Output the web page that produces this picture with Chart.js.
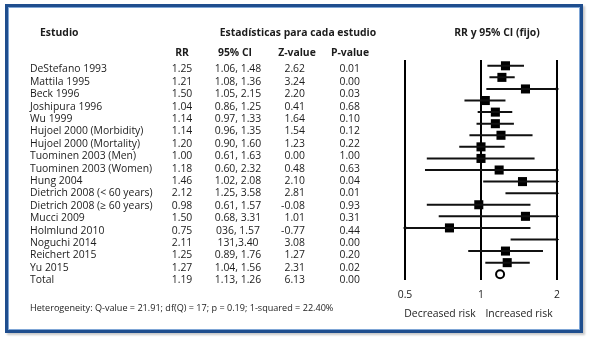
<!DOCTYPE html>
<html>
<head>
<meta charset="utf-8">
<script src="https://cdn.jsdelivr.net/npm/chart.js@4.4.1/dist/chart.umd.min.js"></script>
<style>
  html, body { margin: 0; padding: 0; background: #fff; }
  #wrap { position: relative; width: 589px; height: 338px; overflow: hidden; font-family: "Open Sans", sans-serif; color: #1c1c1c; }
  #frame { position: absolute; left: 5px; top: 4px; width: 572px; height: 323px; border: 3px solid #1f4e8e; box-shadow: inset 0 0 0 1px #7fa6d6, 2px 2px 2px #c8c8c8; }
  #chartBox { position: absolute; left: 0; top: 0; width: 589px; height: 338px; }
  .t { position: absolute; white-space: nowrap; line-height: 1; font-size: 10.4px; }
  .b { font-weight: bold; }
</style>
</head>
<body>
<div id="wrap">
  <div id="frame"></div>
  <div id="chartBox"><canvas id="forest"></canvas></div>
</div>
<script>
// tabla
const estudios = ["DeStefano 1993", "Mattila 1995", "Beck 1996", "Joshipura 1996", "Wu 1999",
  "Hujoel 2000 (Morbidity)", "Hujoel 2000 (Mortality)", "Tuominen 2003 (Men)", "Tuominen 2003 (Women)",
  "Hung 2004", "Dietrich 2008 (< 60 years)", "Dietrich 2008 (\u2265 60 years)", "Mucci 2009",
  "Holmlund 2010", "Noguchi 2014", "Reichert 2015", "Yu 2015", "Total"]
const rrTexto = ["1.25", "1.21", "1.50", "1.04", "1.14", "1.14", "1.20", "1.00", "1.18", "1.46",
  "2.12", "0.98", "1.50", "0.75", "2.11", "1.25", "1.27", "1.19"]
const ciTexto = ["1.06, 1.48", "1.08, 1.36", "1.05, 2.15", "0.86, 1.25", "0.97, 1.33", "0.96, 1.35",
  "0.90, 1.60", "0.61, 1.63", "0.60, 2.32", "1.02, 2.08", "1.25, 3.58", "0.61, 1.57", "0.68, 3.31",
  "036, 1.57", "131,3.40", "0.89, 1.76", "1.04, 1.56", "1.13, 1.26"]
const zTexto = ["2.62", "3.24", "2.20", "0.41", "1.64", "1.54", "1.23", "0.00", "0.48", "2.10",
  "2.81", "-0.08", "1.01", "-0.77", "3.08", "1.27", "2.31", "6.13"]
const pTexto = ["0.01", "0.00", "0.03", "0.68", "0.10", "0.12", "0.22", "1.00", "0.63", "0.04",
  "0.01", "0.93", "0.31", "0.44", "0.00", "0.20", "0.02", "0.00"]

// gráfico (la figura original dibuja una fila extra en la posición 8)
const plotRR = [1.25, 1.21, 1.50, 1.04, 1.14, 1.14, 1.20, 1.00, 1.00, 1.18, 1.46, 2.12, 0.98, 1.50, 0.75, 2.11, 1.25, 1.27, 1.19]
const plotLo = [1.06, 1.08, 1.05, 0.86, 0.97, 0.96, 0.90, 0.82, 0.61, 0.60, 1.02, 1.25, 0.61, 0.68, 0.36, 1.31, 0.89, 1.04, null]
const plotHi = [1.48, 1.36, 2.15, 1.25, 1.33, 1.35, 1.60, 1.24, 1.63, 2.32, 2.08, 3.58, 1.57, 3.31, 1.57, 3.40, 1.76, 1.56, null]
const ticksX = [0.5, 1, 2]

const wrap = document.getElementById('wrap')
function texto(str, x, y, align, cls, size) {
  const d = document.createElement('div')
  d.className = 't ' + (cls || '')
  d.textContent = str
  d.style.left = x + 'px'
  d.style.top = y + 'px'
  if (size) d.style.fontSize = size + 'px'
  const tx = align === 'center' ? '-50%' : align === 'right' ? '-100%' : '0'
  d.style.transform = `translate(${tx}, -50%)`
  wrap.appendChild(d)
}

texto("Estudio", 40, 32, 'left', 'b')
texto("Estadísticas para cada estudio", 298, 32, 'center', 'b')
texto("RR y 95% CI (fijo)", 497, 32, 'center', 'b')
texto("RR", 182, 52, 'center', 'b')
texto("95% CI", 235, 52, 'center', 'b')
texto("Z-value", 297, 52, 'center', 'b')
texto("P-value", 350, 52, 'center', 'b')

estudios.forEach((nombre, i) => {
  const y = 68.3 + i * 12.4
  texto(nombre, 30, y, 'left')
  texto(rrTexto[i], 182, y, 'center')
  texto(ciTexto[i], 238, y, 'center')
  texto(zTexto[i], 305, y, 'right')
  texto(pTexto[i], 360, y, 'right')
})

texto("Heterogeneity: Q-value = 21.91; df(Q) = 17; p = 0.19; 1-squared = 22.40%", 30, 308, 'left', '', 9.1)
texto("Decreased risk", 440, 313, 'center')
texto("Increased risk", 519, 313, 'center')

// lineas de IC con huecos entre filas
const lineasIC = []
const flechas = []
plotRR.forEach((v, i) => {
  if (plotLo[i] == null) return
  lineasIC.push({ x: plotLo[i], y: i }, { x: plotHi[i], y: i }, { x: null, y: i })
  if (plotHi[i] > 2) flechas.push({ x: 2, y: i, r: 90 })
  if (plotLo[i] < 0.5) flechas.push({ x: 0.5, y: i, r: -90 })
})
const cuadros = plotRR.slice(0, -1).map((v, i) => ({ x: v, y: i }))
const total = [{ x: plotRR[plotRR.length - 1], y: plotRR.length - 1 }]

new Chart(document.getElementById('forest'), {
  data: {
    datasets: [
      { type: 'line', data: lineasIC, borderColor: '#111', borderWidth: 2, pointRadius: 0, spanGaps: false },
      { type: 'scatter', data: cuadros, pointStyle: 'rect', pointRadius: 6.4, backgroundColor: '#000', borderWidth: 0 },
      { type: 'scatter', data: total, pointStyle: 'circle', pointRadius: 4, backgroundColor: '#fff', borderColor: '#000', borderWidth: 2 },
      { type: 'scatter', data: flechas, pointStyle: 'triangle', pointRadius: 2.2, rotation: flechas.map(f => f.r),
        backgroundColor: '#000', borderWidth: 0, clip: false }
    ]
  },
  options: {
    responsive: true,
    maintainAspectRatio: false,
    animation: false,
    layout: { padding: { left: 405, right: 32, top: 60, bottom: 27.5 } },
    plugins: { legend: { display: false }, tooltip: { enabled: false } },
    scales: {
      x: {
        type: 'logarithmic',
        min: 0.5,
        max: 2,
        afterBuildTicks: axis => { axis.ticks = ticksX.map(v => ({ value: v })) },
        ticks: { callback: v => String(v), color: '#222', font: { family: 'Open Sans', size: 10.4 }, padding: 9, maxRotation: 0 },
        grid: { color: '#000', lineWidth: 2, drawTicks: false },
        border: { display: false }
      },
      y: { type: 'linear', min: -0.5, max: 18.5, reverse: true, display: false }
    }
  }
})
</script>
</body>
</html>
